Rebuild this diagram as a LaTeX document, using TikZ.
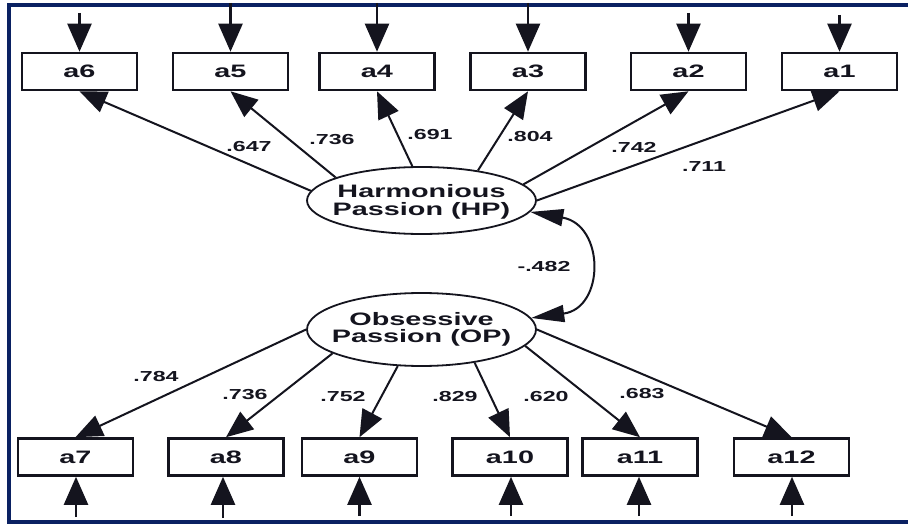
\documentclass[tikz,border=0pt]{standalone}
\usepackage{fontspec}
\setmainfont{Liberation Sans}[FakeStretch=1.6]
\usetikzlibrary{arrows.meta,shapes.geometric}
\definecolor{framenavy}{RGB}{10,33,98}
\definecolor{inkdark}{RGB}{20,20,30}
\begin{document}
\begin{tikzpicture}[x=1pt,y=-1pt,
  obs/.style={draw=inkdark, line width=2.6pt, fill=white, minimum width=115pt,
    minimum height=37pt, inner sep=0pt, text=inkdark,
    font=\fontsize{18}{18}\selectfont\bfseries},
  latent/.style={ellipse, draw=inkdark, line width=1.8pt, fill=white,
    minimum width=229pt, minimum height=67pt, inner sep=0pt},
  latenttext/.style={align=center, inner sep=0pt, text=inkdark,
    font=\fontsize{18}{17.5}\selectfont\bfseries},
  loading/.style={draw=inkdark, line width=2pt, -{Triangle[length=27pt,width=22pt]}},
  errarrow/.style={draw=inkdark, line width=2.4pt, -{Triangle[length=28pt,width=24pt]}},
  corr/.style={draw=inkdark, line width=2pt,
    {Triangle[length=33pt,width=17pt]}-{Triangle[length=33pt,width=17pt]}},
  coef/.style={inner sep=0pt, text=inkdark, font=\fontsize{14.5}{15}\selectfont\bfseries}]

\useasboundingbox (0,0) rectangle (908,524);
\clip (0,0) rectangle (908,524);
\fill[white] (0,0) rectangle (908,524);

% outer frame (open on the right)
\draw[framenavy, line width=4pt] (960,5) -- (9,5) -- (9,522) -- (960,522);

% latent factors
\node[latent] (HP) at (421.5,200.5) {};
\node[latenttext] (HPt) at (421.5,202) {Harmonious\\Passion (HP)};
\node[latent, minimum height=73pt] (OP) at (421.5,329.5) {};
\node[latenttext] (OPt) at (421.5,329.5) {Obsessive\\Passion (OP)};

% indicators of HP
\node[obs] (a6) at (79.5,71.5) {a6};
\node[obs] (a5) at (230.5,71.5) {a5};
\node[obs] (a4) at (377,71.5) {a4};
\node[obs] (a3) at (528,71.5) {a3};
\node[obs] (a2) at (688.5,71.5) {a2};
\node[obs] (a1) at (839.5,71.5) {a1};

% indicators of OP
\node[obs] (a7) at (75.5,457) {a7};
\node[obs] (a8) at (226,457) {a8};
\node[obs] (a9) at (359.5,457) {a9};
\node[obs] (a10) at (510,457) {a10};
\node[obs] (a11) at (640,457) {a11};
\node[obs] (a12) at (791.5,457) {a12};

% error terms
\coordinate (e6) at (79.5,13);
\coordinate (e5) at (230.5,3);
\coordinate (e4) at (377,3);
\coordinate (e3) at (528,3);
\coordinate (e2) at (688.5,13);
\coordinate (e1) at (839.5,15);
\coordinate (e7) at (76,517);
\coordinate (e8) at (223,518);
\coordinate (e9) at (359.5,516);
\coordinate (e10) at (511,516);
\coordinate (e11) at (639,516);
\coordinate (e12) at (792,516);
\foreach \i in {1,...,6} {\draw[errarrow] (e\i) -- (e\i |- a\i.north);}
\foreach \i in {7,...,12} {\draw[errarrow] (e\i) -- (e\i |- a\i.south);}

% loadings
\draw[loading] (HP.175.6) -- (a6.south);
\draw[loading] (HP.165.7) -- (a5.south);
\draw[loading] (HP.105.8) -- (a4.south);
\draw[loading] (HP.28.8) -- (a3.south);
\draw[loading] (HP.9.5) -- (a2.south);
\draw[loading] (HP.-0.7) -- (a1.south);

\draw[loading] (OP.180) -- (a7.north);
\draw[loading] (OP.195.6) -- (a8.north);
\draw[loading] (OP.237.5) -- (a9.north);
\draw[loading] (OP.-32.3) -- (a10.north);
\draw[loading] (OP.-9.5) -- (a11.north);
\draw[loading] (OP.0) -- (a12.north);

% factor correlation
\draw[corr] (HP.-6) .. controls (605,225) and (605,308) .. (OP.6);

% coefficients
\node[coef] (c6) at (249,147) {.647};
\node[coef] (c5) at (332,140) {.736};
\node[coef] (c4) at (430,135) {.691};
\node[coef] (c3) at (530,137) {.804};
\node[coef] (c2) at (634,147) {.742};
\node[coef] (c1) at (704,167) {.711};
\node[coef] (r) at (544,267) {-.482};
\node[coef] (c7) at (156,377) {.784};
\node[coef] (c8) at (245,395) {.736};
\node[coef] (c9) at (343,397) {.752};
\node[coef] (c10) at (455,397) {.829};
\node[coef] (c11) at (546,397) {.620};
\node[coef] (c12) at (642,394) {.683};
\end{tikzpicture}
\end{document}
